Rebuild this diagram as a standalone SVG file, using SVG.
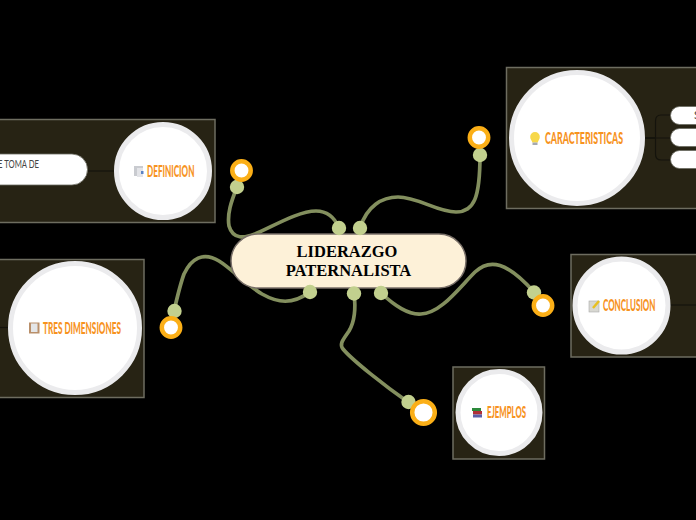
<svg xmlns="http://www.w3.org/2000/svg" width="696" height="520" viewBox="0 0 696 520">
<style>
.panel{fill:#272314;stroke:#6e6d60;stroke-width:1.5}
.disc{fill:#fff;stroke:#ebebed;stroke-width:5}
.label{font-family:"Lato","Liberation Sans",sans-serif;font-weight:900;font-size:16.500px;fill:#f7931e}
.pill{fill:#fff;stroke:#6a6960;stroke-width:.8}
.sub{font-family:"Lato","Liberation Sans",sans-serif;font-size:11.500px;fill:#444}
.link{fill:none;stroke:#838f5e;stroke-width:3.700;stroke-linecap:round}
.inner{fill:none;stroke:#14130c;stroke-width:1.200}
.dot{fill:#c2d08e}
.ring{fill:#fff;stroke:#fbaf17;stroke-width:4.500}
.title{font-family:"Liberation Serif",serif;font-weight:700;font-size:16.500px;fill:#000;text-anchor:middle}
</style>
<rect width="696" height="520" fill="#000"/>
<g id="connectors">
<path class="link" d="M339 228C334 216 326 211 316 211C298 211 272 227 255 234C245 238 233 240 229 226C227 214 231 202 237 187"/>
<path class="link" d="M360 228C367 206 382 197 398 197C418 197 437 212 456 212C474 212 480 198 480 155"/>
<path class="link" d="M310 292C292 305 278 303 262 294C244 283 232 269 219 261C203 251 191 259 184 274C180 285 177 298 174 311"/>
<path class="link" d="M381 293C395 306 408 315 421 314C441 313 458 289 475 272C490 258 507 262 534 292"/>
<path class="link" d="M354 293C356 309 355 321 349 331C343 340 339 344 343 349C352 360 385 386 408 402"/>
</g>
<g id="node-central">
<rect x="231" y="234" width="235" height="54" rx="27" fill="#fdf1d8" stroke="#786f68" stroke-width="1.500"/>
<text class="title" x="347" y="257">LIDERAZGO</text>
<text class="title" x="348.500" y="276">PATERNALISTA</text>
</g>
<g id="node-definicion">
<rect class="panel" x="-10" y="119.500" width="225" height="103"/>
<path class="inner" d="M88 171H114"/>
<rect class="pill" x="-40" y="154" width="127.500" height="31" rx="15.500"/>
<text class="sub" x="-2" y="168" textLength="41" lengthAdjust="spacingAndGlyphs">E TOMA DE</text>
<circle class="disc" cx="163" cy="171" r="46.500"/>
<rect x="134" y="166" width="9" height="10" fill="#c9cbd0"/><rect x="137" y="168" width="6" height="9" fill="#e3e4e8"/><rect x="141" y="171" width="2.500" height="3" fill="#5b83c4"/>
<text class="label" x="147" y="176.500" textLength="47.500" lengthAdjust="spacingAndGlyphs">DEFINICION</text>
</g>
<g id="node-caracteristicas">
<rect class="panel" x="506.500" y="67.500" width="200" height="141"/>
<path class="inner" d="M641 138H671M671 115H661Q655.500 115 655.500 121V154Q655.500 160 661 160H671" stroke-width="1"/>
<path d="M641 138H655" stroke="#14130c" stroke-width="1.600"/>
<rect class="pill" x="670.500" y="106.500" width="60" height="18" rx="9"/>
<rect class="pill" x="670.500" y="128.500" width="60" height="18" rx="9"/>
<rect class="pill" x="670.500" y="150.500" width="60" height="18" rx="9"/>
<text class="sub" x="694" y="119">S</text>
<circle class="disc" cx="577" cy="138" r="65.500"/>
<path d="M535 132a4.800 4.800 0 0 1 4.800 5c0 2.500-1.800 3.500-2 5.500h-5.500c-.2-2-2.100-3-2.100-5.500a4.800 4.800 0 0 1 4.800-5z" fill="#f7d84a"/><rect x="532.500" y="142.500" width="5" height="2.500" fill="#a5a9b0"/>
<text class="label" x="545" y="143.500" textLength="78" lengthAdjust="spacingAndGlyphs">CARACTERISTICAS</text>
</g>
<g id="node-tres-dimensiones">
<rect class="panel" x="-10" y="259.500" width="154" height="138"/>
<path class="inner" d="M-2 327.500H10"/>
<circle class="disc" cx="75" cy="328" r="64.500"/>
<rect x="29" y="322.500" width="10.500" height="11" fill="#b98f6a"/><rect x="31" y="323.500" width="6.500" height="8.500" fill="#e4e6e8"/>
<text class="label" x="43" y="333.500" textLength="78" lengthAdjust="spacingAndGlyphs">TRES DIMENSIONES</text>
</g>
<g id="node-conclusion">
<rect class="panel" x="571" y="254.500" width="135" height="102.500"/>
<path class="inner" d="M668 305H696"/>
<circle class="disc" cx="621.500" cy="305.500" r="46.500"/>
<rect x="589" y="301" width="10" height="11" fill="#d8d8d2" stroke="#aaa" stroke-width=".6"/><path d="M593 308L599 301" stroke="#e8c020" stroke-width="2.500"/>
<text class="label" x="603" y="311" textLength="52.500" lengthAdjust="spacingAndGlyphs">CONCLUSION</text>
</g>
<g id="node-ejemplos">
<rect class="panel" x="453" y="367" width="91.500" height="92"/>
<circle class="disc" cx="499" cy="412.500" r="41"/>
<rect x="472" y="408" width="9" height="3" fill="#2c8a3c"/><rect x="473" y="411" width="9" height="3.500" fill="#b03038"/><rect x="473" y="414.500" width="9" height="3" fill="#5a5fa8"/>
<text class="label" x="487" y="418" textLength="39" lengthAdjust="spacingAndGlyphs">EJEMPLOS</text>
</g>
<g id="ends">
<circle class="dot" cx="339" cy="228" r="7.200"/>
<circle class="dot" cx="360" cy="228" r="7.200"/>
<circle class="dot" cx="310" cy="292" r="7.200"/>
<circle class="dot" cx="354" cy="293.500" r="7.200"/>
<circle class="dot" cx="381" cy="293" r="7.200"/>
<circle class="dot" cx="237" cy="187" r="7.200"/>
<circle class="dot" cx="480" cy="155" r="7.200"/>
<circle class="dot" cx="174.500" cy="311" r="7.200"/>
<circle class="dot" cx="534" cy="292.500" r="7.200"/>
<circle class="dot" cx="408.500" cy="402" r="7.200"/>
<circle class="ring" cx="241.500" cy="170.500" r="9.200"/>
<circle class="ring" cx="479" cy="137.500" r="9.200"/>
<circle class="ring" cx="171" cy="327.500" r="9.200"/>
<circle class="ring" cx="543" cy="305.500" r="9.200"/>
<circle class="ring" cx="423.500" cy="412.500" r="11.300"/>
</g>
</svg>
